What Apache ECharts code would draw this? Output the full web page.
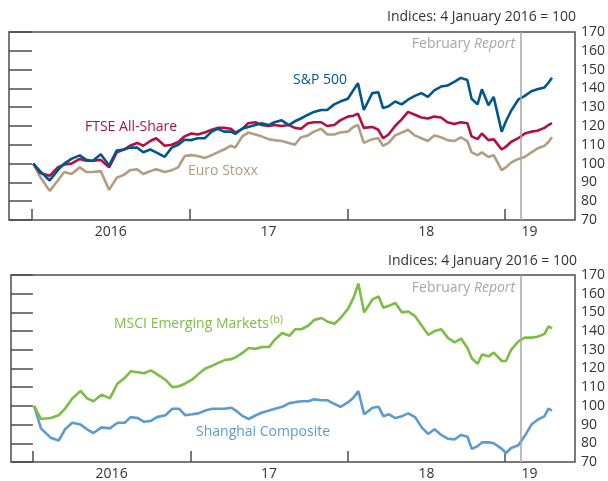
<!DOCTYPE html>
<html>
<head>
<meta charset="utf-8">
<script src="https://cdn.jsdelivr.net/npm/echarts@6/dist/echarts.min.js"></script>
<style>
  html, body { margin: 0; padding: 0; background: #fff; }
  #chart { width: 608px; height: 481px; }
</style>
</head>
<body>
<div id="chart"></div>
<script>
// 采样日期（约半月一个点，加上几个极值日）
let dates = [
    '2016-01-04','2016-01-20','2016-02-11','2016-02-29','2016-03-15','2016-04-01','2016-04-20','2016-05-05','2016-05-20','2016-06-08',
    '2016-06-27','2016-07-15','2016-08-01','2016-08-15','2016-09-01','2016-09-15','2016-10-01','2016-10-15','2016-11-04','2016-11-20',
    '2016-12-05','2016-12-20','2017-01-05','2017-01-20','2017-02-05','2017-02-20','2017-03-05','2017-03-20','2017-04-05','2017-04-15',
    '2017-05-01','2017-05-15','2017-06-01','2017-06-15','2017-07-01','2017-07-15','2017-08-01','2017-08-18','2017-09-01','2017-09-15',
    '2017-10-01','2017-10-15','2017-11-01','2017-11-15','2017-12-01','2017-12-15','2018-01-02','2018-01-15','2018-01-26','2018-02-08',
    '2018-02-26','2018-03-12','2018-03-23','2018-04-05','2018-04-20','2018-05-05','2018-05-20','2018-06-05','2018-06-20','2018-07-05',
    '2018-07-20','2018-08-05','2018-08-20','2018-09-05','2018-09-20','2018-10-05','2018-10-15','2018-10-29','2018-11-08','2018-11-23',
    '2018-12-05','2018-12-24','2019-01-03','2019-01-15','2019-02-01','2019-02-15','2019-03-01','2019-03-15','2019-04-01','2019-04-10',
    '2019-04-18'
]
let spx = [
    100, 96, 91, 96.5, 100, 102.5, 104.4, 102, 101.4, 105,
    99, 107, 107.5, 108.6, 108.5, 106, 107.5, 106, 103.6, 108.5,
    110, 112.7, 112.5, 113.5, 113.5, 117, 118.5, 117, 117, 115.8,
    118.5, 119.5, 120.5, 121.5, 120.5, 122, 123, 120.5, 122.5, 124,
    126, 127.5, 128.5, 128.5, 131.5, 133, 134.5, 139, 142.7, 128.5,
    137.5, 138, 129.5, 130.5, 133, 131.5, 134, 136, 137.5, 135.5,
    139, 141, 141.5, 143.5, 145.6, 144.5, 134.5, 131.5, 139.5, 131,
    135.5, 117, 122.5, 128, 134, 136, 138.5, 139.5, 140.5, 143,
    145.7
]
let ftse = [
    100, 95, 93.5, 98, 99.5, 100, 102.5, 101.5, 101.5, 102,
    98, 106, 107.5, 109.5, 111, 109.5, 112, 113.5, 109.5, 110,
    111.5, 114.5, 116, 115.5, 116.5, 118, 119, 119, 118.5, 116.5,
    118.5, 121.5, 122, 120.5, 120, 120.5, 120, 120.5, 119, 118.5,
    121.5, 122, 122, 120, 120.5, 123, 125, 125.5, 126.5, 119,
    119.5, 118, 113.5, 115.5, 120, 123.5, 127.5, 126, 124.5, 124,
    125, 124.5, 122, 121, 122, 121.5, 114.5, 113, 116, 112.5,
    113, 107.5, 109, 111.5, 113.5, 116, 117, 117.5, 119, 120.5,
    121.5
]
let stoxx = [
    100, 93, 85.5, 91, 95.5, 94.5, 98, 95.5, 95.5, 96,
    86, 92.5, 94, 96.5, 97, 94.5, 96, 97, 95.5, 96.5,
    98, 104, 104.5, 104, 103, 104.5, 106, 107.5, 109.5, 108.5,
    114.5, 116.5, 115.5, 114.5, 113, 112.5, 112, 111, 110, 114,
    115, 117, 118.5, 115.5, 115.5, 116.5, 117, 119.5, 120.5, 111,
    113, 113.5, 109.5, 111, 115, 116.5, 118, 115, 113.5, 112,
    115, 114, 112.5, 112, 114, 112, 106, 104.5, 106, 103.5,
    104.5, 96.5, 98, 100.5, 102.5, 103.5, 106, 108, 109.5, 111.5,
    114
]
let msci = [
    100, 93, 93.5, 95, 98.5, 104, 108, 104, 102.5, 106,
    104, 112, 115, 118.5, 118, 117.5, 119, 117, 114, 110,
    110.5, 112, 114, 117, 120, 121.5, 123, 124.5, 125, 126,
    128.5, 131, 130.5, 131.5, 131.5, 135.5, 139, 137.5, 141, 141,
    143, 146, 147, 145, 144, 147, 152, 158, 165.5, 150,
    157, 158.5, 152.5, 153.5, 155, 150, 150.5, 148, 143, 138,
    140, 141, 136.5, 134, 136, 131, 125.5, 122.5, 127.5, 126.5,
    128.5, 124, 124, 130, 134.5, 136.5, 136.5, 137, 138.5, 142.5,
    141.5
]
let shanghai = [
    100, 88, 83, 81.5, 87.5, 91, 90, 87.5, 85.5, 88.5,
    88, 91, 91, 94, 93.5, 91.5, 92, 94, 95, 98.5,
    98.5, 95, 95.5, 96, 97.5, 98.5, 98.5, 98.5, 99, 97.5,
    94.5, 93, 95, 96.5, 97.5, 98.5, 99.5, 101.5, 102, 102.5,
    102.5, 103.5, 103, 103, 101, 99.5, 102, 104.5, 108, 95.5,
    99, 99.5, 94.5, 95.5, 93.5, 94.5, 96, 94, 88.5, 85,
    87.5, 84.5, 82.5, 82, 84.5, 83.5, 77, 78.5, 80.5, 80.5,
    80, 77, 74.8, 77.5, 79, 84, 90, 92.5, 94.5, 98.5,
    97.5
]
let yearLabels = ['2016', '17', '18', '19']
let febReport = '2019-02-06'

let font = '"Open Sans", sans-serif'
let frameColor = '#4d4d4d'
let colors = {
    spx: '#00578e',
    ftse: '#b3103f',
    stoxx: '#b39c80',
    msci: '#7cbd45',
    shanghai: '#5b9bd1',
    report: '#a6a6a6'
}

// 日期 -> 距 2016 年 1 月的月数
function toMonth(s) {
    let [y, m, d] = s.split('-').map(Number)
    let days = new Date(y, m, 0).getDate()
    return (y - 2016) * 12 + (m - 1) + (d - 1) / days
}
function pairs(values) {
    return values.map((v, i) => [toMonth(dates[i]), v])
}

function xAxisFor(idx, min) {
    return {
        gridIndex: idx,
        type: 'value',
        min: min,
        max: 41.32,
        splitLine: { show: false },
        axisLine: { show: false },
        axisTick: {
            show: true, inside: true, length: 11,
            customValues: [0, 12, 24, 36],
            lineStyle: { color: frameColor, width: 1.5 }
        },
        axisLabel: {
            customValues: [6, 18, 30, 37.85],
            formatter: v => yearLabels[Math.min(3, Math.floor(v / 12))],
            margin: 5,
            fontSize: 14,
            fontFamily: font,
            color: '#333'
        }
    }
}
function yAxisFor(idx, side) {
    return {
        gridIndex: idx,
        type: 'value',
        position: side,
        min: 70,
        max: 170,
        interval: 10,
        splitLine: { show: false },
        axisLine: { show: false },
        axisTick: { show: true, inside: true, length: 14, lineStyle: { color: frameColor, width: 1.5 } },
        axisLabel: {
            show: side == 'right',
            margin: 6,
            fontSize: 14,
            fontFamily: font,
            color: '#333'
        }
    }
}
function lineSeries(name, values, color, xi, yi) {
    return {
        name: name,
        type: 'line',
        xAxisIndex: xi,
        yAxisIndex: yi,
        data: pairs(values),
        showSymbol: false,
        symbol: 'none',
        lineStyle: { color: color, width: 2.6 },
        z: 3
    }
}
function reportLine() {
    return {
        silent: true,
        symbol: ['none', 'none'],
        label: { show: false },
        lineStyle: { color: colors.report, width: 1.5, type: 'solid' },
        data: [{ xAxis: toMonth(febReport) }]
    }
}
function label(text, x, y, color, align, rich) {
    return {
        type: 'text',
        x: x,
        y: y,
        style: {
            text: text,
            fill: color,
            font: '14px ' + font,
            align: align || 'left',
            verticalAlign: 'middle',
            rich: rich
        },
        z: 10
    }
}

let myChart = echarts.init(document.getElementById('chart'), null, { renderer: 'canvas' })
let gridStyle = { show: true, borderColor: frameColor, borderWidth: 1.5, backgroundColor: 'transparent' }
let italic = { i: { fontStyle: 'italic', fontSize: 14, fontFamily: font, fill: colors.report } }

let option = {
    animation: false,
    grid: [
        Object.assign({ left: 9, top: 32, right: 32, height: 188 }, gridStyle),
        Object.assign({ left: 11, top: 275, right: 32, height: 188 }, gridStyle)
    ],
    xAxis: [xAxisFor(0, -1.75), xAxisFor(1, -1.67)],
    yAxis: [yAxisFor(0, 'right'), yAxisFor(0, 'left'), yAxisFor(1, 'right'), yAxisFor(1, 'left')],
    series: [
        Object.assign(lineSeries('Euro Stoxx', stoxx, colors.stoxx, 0, 0), { markLine: reportLine() }),
        lineSeries('FTSE All-Share', ftse, colors.ftse, 0, 0),
        lineSeries('S&P 500', spx, colors.spx, 0, 0),
        Object.assign(lineSeries('Shanghai Composite', shanghai, colors.shanghai, 1, 2), { markLine: reportLine() }),
        lineSeries('MSCI Emerging Markets', msci, colors.msci, 1, 2)
    ],
    graphic: [
        label('Indices: 4 January 2016 = 100', 576, 17, '#333', 'right'),
        label('February {i|Report}', 515, 44, colors.report, 'right', italic),
        label('S&P 500', 293, 80, colors.spx),
        label('FTSE All-Share', 85, 127, colors.ftse),
        label('Euro Stoxx', 188, 171, colors.stoxx),
        label('Indices: 4 January 2016 = 100', 577, 261, '#333', 'right'),
        label('February {i|Report}', 515, 288, colors.report, 'right', italic),
        label('MSCI Emerging Markets{s|(b)}', 114, 324, colors.msci, 'left',
            { s: { fontSize: 11, fontFamily: font, fill: colors.msci, padding: [0, 0, 8, 1] } }),
        label('Shanghai Composite', 196, 432, colors.shanghai)
    ]
}
myChart.setOption(option)
</script>
</body>
</html>
